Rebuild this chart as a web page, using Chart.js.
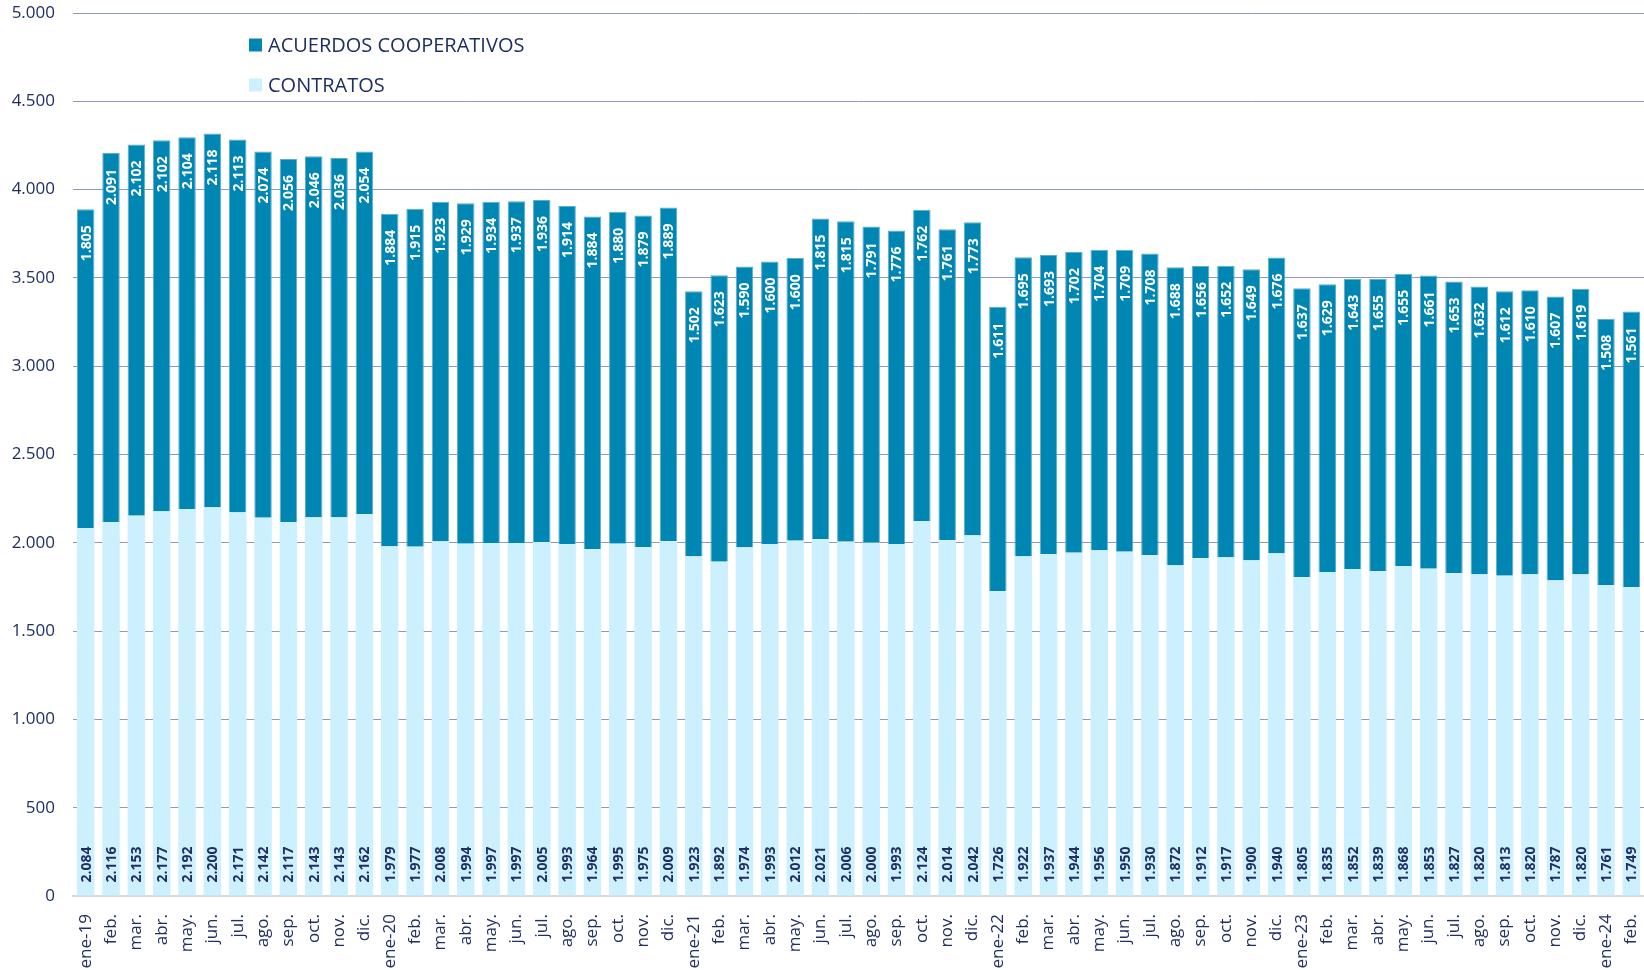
<!DOCTYPE html>
<html lang="es">
<head>
<meta charset="utf-8">
<title>Acuerdos cooperativos y contratos</title>
<script src="https://cdn.jsdelivr.net/npm/chart.js"></script>
<style>
  html, body { margin: 0; padding: 0; background: #fff; }
  #wrap { width: 1644px; height: 970px; position: relative; }
</style>
</head>
<body>
<div id="wrap"><canvas id="chart"></canvas></div>
<script>
// ---------- Datos ----------
const labels = [
  'ene-19', 'feb.', 'mar.', 'abr.', 'may.', 'jun.', 'jul.', 'ago.', 'sep.', 'oct.', 'nov.', 'dic.',
  'ene-20', 'feb.', 'mar.', 'abr.', 'may.', 'jun.', 'jul.', 'ago.', 'sep.', 'oct.', 'nov.', 'dic.',
  'ene-21', 'feb.', 'mar.', 'abr.', 'may.', 'jun.', 'jul.', 'ago.', 'sep.', 'oct.', 'nov.', 'dic.',
  'ene-22', 'feb.', 'mar.', 'abr.', 'may.', 'jun.', 'jul.', 'ago.', 'sep.', 'oct.', 'nov.', 'dic.',
  'ene-23', 'feb.', 'mar.', 'abr.', 'may.', 'jun.', 'jul.', 'ago.', 'sep.', 'oct.', 'nov.', 'dic.',
  'ene-24', 'feb.'
];

const contratos = [
  2084, 2116, 2153, 2177, 2192, 2200, 2171, 2142, 2117, 2143, 2143, 2162,
  1979, 1977, 2008, 1994, 1997, 1997, 2005, 1993, 1964, 1995, 1975, 2009,
  1923, 1892, 1974, 1993, 2012, 2021, 2006, 2000, 1993, 2124, 2014, 2042,
  1726, 1922, 1937, 1944, 1956, 1950, 1930, 1872, 1912, 1917, 1900, 1940,
  1805, 1835, 1852, 1839, 1868, 1853, 1827, 1820, 1813, 1820, 1787, 1820,
  1761, 1749
];

const acuerdos = [
  1805, 2091, 2102, 2102, 2104, 2118, 2113, 2074, 2056, 2046, 2036, 2054,
  1884, 1915, 1923, 1929, 1934, 1937, 1936, 1914, 1884, 1880, 1879, 1889,
  1502, 1623, 1590, 1600, 1600, 1815, 1815, 1791, 1776, 1762, 1761, 1773,
  1611, 1695, 1693, 1702, 1704, 1709, 1708, 1688, 1656, 1652, 1649, 1676,
  1637, 1629, 1643, 1655, 1655, 1661, 1653, 1632, 1612, 1610, 1607, 1619,
  1508, 1561
];

const yMin = 0;
const yMax = 5000;
const yStep = 500;

// ---------- Estilo ----------
const NAVY = '#1f2f62';
const DARK = '#0086b3';
const LIGHT = '#ccf0fd';
const FONT = "'Open Sans', 'Noto Sans', sans-serif";

// separador de miles con punto
const fmt = n => String(n).replace(/\B(?=(\d{3})+(?!\d))/g, '.');

// ---------- Etiquetas de datos (rotadas) ----------
const barLabels = {
  id: 'barLabels',
  afterDatasetsDraw(chart) {
    const ctx = chart.ctx;
    ctx.save();
    ctx.font = 'bold 14px ' + FONT;
    ctx.textBaseline = 'middle';

    // contratos: abajo, azul oscuro
    chart.getDatasetMeta(0).data.forEach((bar, i) => {
      const p = bar.getProps(['x', 'y', 'base'], true);
      ctx.save();
      ctx.translate(p.x, p.base - 13);
      ctx.rotate(-Math.PI / 2);
      ctx.textAlign = 'left';
      ctx.fillStyle = NAVY;
      ctx.fillText(fmt(contratos[i]), 0, 1);
      ctx.restore();
    });

    // acuerdos: arriba dentro de la barra, blanco
    chart.getDatasetMeta(1).data.forEach((bar, i) => {
      const p = bar.getProps(['x', 'y', 'base'], true);
      ctx.save();
      ctx.translate(p.x, p.y + 16);
      ctx.rotate(-Math.PI / 2);
      ctx.textAlign = 'right';
      ctx.fillStyle = '#ffffff';
      ctx.fillText(fmt(acuerdos[i]), 0, 1);
      ctx.restore();
    });
    ctx.restore();
  }
};

// ---------- Leyenda dentro del area ----------
const innerLegend = {
  id: 'innerLegend',
  afterDraw(chart) {
    const ctx = chart.ctx;
    const items = [
      { text: 'ACUERDOS COOPERATIVOS', color: DARK, y: 45 },
      { text: 'CONTRATOS', color: LIGHT, y: 85 }
    ];
    ctx.save();
    ctx.font = '20px ' + FONT;
    ctx.textBaseline = 'middle';
    ctx.textAlign = 'left';
    items.forEach(it => {
      ctx.fillStyle = it.color;
      ctx.fillRect(249, it.y - 6.5, 13, 13);
      ctx.fillStyle = NAVY;
      ctx.fillText(it.text, 268, it.y + 1);
    });
    ctx.restore();
  }
};

// ---------- Grafico ----------
new Chart(document.getElementById('chart'), {
  type: 'bar',
  data: {
    labels,
    datasets: [
      {
        label: 'CONTRATOS',
        data: contratos,
        backgroundColor: LIGHT,
        borderWidth: 0,
        barPercentage: 0.69,
        categoryPercentage: 1
      },
      {
        label: 'ACUERDOS COOPERATIVOS',
        data: acuerdos,
        backgroundColor: DARK,
        borderColor: '#5aaed2',
        borderWidth: { top: 1, left: 1, right: 1, bottom: 0 },
        borderSkipped: false,
        barPercentage: 0.69,
        categoryPercentage: 1
      }
    ]
  },
  options: {
    responsive: true,
    maintainAspectRatio: false,
    animation: false,
    layout: { padding: { top: 13, right: 0, left: 0, bottom: 0 } },
    plugins: {
      legend: { display: false },
      tooltip: { enabled: false }
    },
    scales: {
      x: {
        stacked: true,
        grid: { display: false, drawTicks: false },
        border: { display: true, color: '#d9d9d9', width: 2 },
        ticks: {
          autoSkip: false,
          minRotation: 90,
          maxRotation: 90,
          padding: 18,
          color: NAVY,
          font: { family: FONT, size: 17 }
        },
        afterFit(scale) {
          scale.height = 74;
          scale.paddingLeft = 0;
          scale.paddingRight = 0;
        }
      },
      y: {
        stacked: true,
        min: yMin,
        max: yMax,
        grid: {
          drawTicks: false,
          color: c => (c.tick && c.tick.value === 0 ? 'rgba(0,0,0,0)' : '#8f99bb'),
          lineWidth: 1
        },
        border: { display: false },
        ticks: {
          stepSize: yStep,
          padding: 18,
          color: NAVY,
          font: { family: FONT, size: 17 },
          callback: v => fmt(v)
        },
        afterFit(scale) {
          scale.width = 73;
          scale.paddingTop = 0;
          scale.paddingBottom = 0;
        }
      }
    }
  },
  plugins: [barLabels, innerLegend]
});
</script>
</body>
</html>
